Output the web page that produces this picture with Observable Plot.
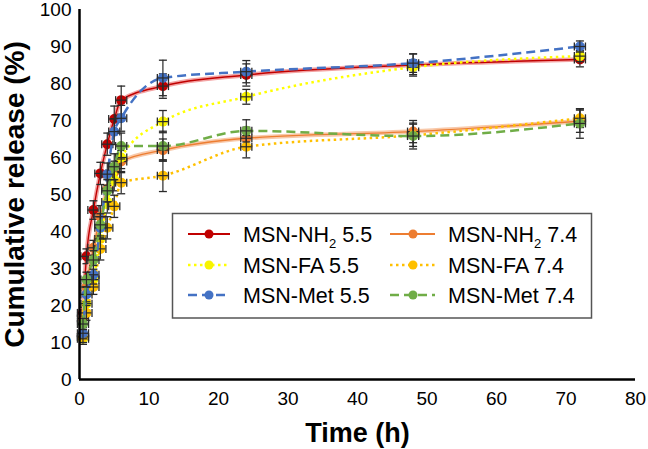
<!DOCTYPE html>
<html><head><meta charset="utf-8">
<script src="https://cdn.jsdelivr.net/npm/d3@7"></script>
<script src="https://cdn.jsdelivr.net/npm/@observablehq/plot@0.6"></script>
<style>body{margin:0;background:#fff}</style>
</head><body><div id="chart"></div>
<script>
// ---- data ----
const times = [0.5, 1, 2, 3, 4, 5, 6, 12, 24, 48, 72];
const seriesNames = ["MSN-NH2 5.5", "MSN-NH2 7.4", "MSN-FA 5.5", "MSN-FA 7.4", "MSN-Met 5.5", "MSN-Met 7.4"];
const nh2_55 = [18, 33.3, 45.8, 55.7, 63.6, 70.4, 75.5, 79.3, 82.3, 85, 86.5];
const nh2_74 = [16.5, 25, 35.6, 44, 51.5, 56, 58.9, 62, 65.2, 67, 69.8];
const fa_55  = [11, 20.5, 27, 38, 48, 54, 60, 69.7, 76.4, 84.4, 87.4];
const fa_74  = [11.5, 18, 25, 35.3, 41, 46.8, 53.2, 55.1, 62.9, 66, 70.6];
const met_55 = [12.5, 23, 28.3, 41, 55.5, 67, 70.6, 81.5, 83.2, 85.5, 90];
const met_74 = [15, 27, 32.3, 41.8, 51, 57.5, 63.1, 63.1, 67.2, 65.8, 69.2];
const err_nh2_55 = [1.5, 2, 2.5, 3, 3, 3.5, 3.8, 3.3, 3, 3, 2];
const err_nh2_74 = [1.5, 2, 2, 3, 3, 3, 3, 3, 3, 3, 3];
const err_fa_55  = [1.5, 2, 2, 2.5, 3, 3, 3, 3, 2, 2, 1.5];
const err_fa_74  = [1.5, 2, 2, 3, 3, 3, 3, 4.3, 3, 3, 2.5];
const err_met_55 = [1.5, 2, 2.5, 3, 3, 3.5, 3.5, 4.8, 3, 2.5, 1.5];
const err_met_74 = [1.5, 2, 2.5, 3, 3, 3.5, 3.5, 4, 3, 3.5, 4];
const timeError = 0.8;
const xTicks = [0, 10, 20, 30, 40, 50, 60, 70, 80];
const yTicks = [0, 10, 20, 30, 40, 50, 60, 70, 80, 90, 100];

const values = [nh2_55, nh2_74, fa_55, fa_74, met_55, met_74];
const errors = [err_nh2_55, err_nh2_74, err_fa_55, err_fa_74, err_met_55, err_met_74];

// ---- styles ----
const styles = [
  {color: "#c00000", under: "#f3a3a3", dash: null, width: 1.4},
  {color: "#ed7d31", under: "#f8c9aa", dash: null, width: 1.4},
  {color: "#ffff00", under: null, dash: "2.5,3.5", width: 2.5},
  {color: "#ffc000", under: null, dash: "2.5,3.5", width: 2.5},
  {color: "#4472c4", under: null, dash: "9,5", width: 2.5},
  {color: "#70ad47", under: null, dash: "9,5", width: 2.5}
];
const dotFill = ["#c00000", "#ed7d31", "#f8f400", "#ffc000", "#4472c4", "#70ad47"];

const capH = {draw(ctx) { ctx.moveTo(-4, 0); ctx.lineTo(4, 0); }};
const capV = {draw(ctx) { ctx.moveTo(0, -4); ctx.lineTo(0, 4); }};
const errColor = "#2a2a2a";
const curve = "monotone-x";

const marks = [];
seriesNames.forEach((name, i) => {
  const rows = times.map((t, j) => ({series: name, t, v: values[i][j], e: errors[i][j]}));
  const s = styles[i];
  if (s.under) marks.push(Plot.line(rows, {x: "t", y: "v", curve, stroke: s.under, strokeWidth: 4.5}));
  marks.push(Plot.line(rows, {x: "t", y: "v", curve, stroke: s.color, strokeWidth: s.width,
    strokeDasharray: s.dash || undefined, strokeLinecap: "butt"}));
  marks.push(Plot.dot(rows, {x: "t", y: "v", r: 5, fill: dotFill[i], stroke: "none"}));
  marks.push(Plot.ruleX(rows, {x: "t", y1: d => d.v - d.e, y2: d => d.v + d.e, stroke: errColor, strokeWidth: 1.2}));
  marks.push(Plot.ruleY(rows, {y: "v", x1: d => d.t - timeError, x2: d => d.t + timeError, stroke: errColor, strokeWidth: 1.2}));
  marks.push(Plot.dot(rows, {x: "t", y: d => d.v + d.e, symbol: capH, stroke: errColor, strokeWidth: 1.3, fill: "none"}));
  marks.push(Plot.dot(rows, {x: "t", y: d => d.v - d.e, symbol: capH, stroke: errColor, strokeWidth: 1.3, fill: "none"}));
  marks.push(Plot.dot(rows, {x: d => d.t - timeError, y: "v", symbol: capV, stroke: errColor, strokeWidth: 1.3, fill: "none"}));
  marks.push(Plot.dot(rows, {x: d => d.t + timeError, y: "v", symbol: capV, stroke: errColor, strokeWidth: 1.3, fill: "none"}));
});

const chart = Plot.plot({
  width: 648, height: 449,
  marginLeft: 79, marginRight: 13, marginTop: 9, marginBottom: 70,
  style: {fontFamily: "'Liberation Sans', Arial, sans-serif", fontSize: "19px", color: "#000", background: "#fff"},
  x: {domain: [0, 80], ticks: xTicks, tickSize: 0, tickPadding: 12, label: null},
  y: {domain: [0, 100], ticks: yTicks, tickSize: 0, tickPadding: 8, label: null},
  marks: [
    ...marks,
    Plot.ruleX([0], {stroke: "#000", strokeWidth: 2.5}),
    Plot.ruleY([0], {stroke: "#000", strokeWidth: 2.5}),
    Plot.text(["Cumulative release (%)"], {text: d => d, frameAnchor: "left", dx: -64, rotate: -90,
      textAnchor: "middle", lineAnchor: "middle", fontSize: 28, fontWeight: "bold", fill: "#000"}),
    Plot.text(["Time (h)"], {text: d => d, frameAnchor: "bottom", dy: 54, textAnchor: "middle",
      lineAnchor: "middle", fontSize: 27, fontWeight: "bold", fill: "#000"})
  ]
});
document.getElementById("chart").appendChild(chart);

// ---- legend ----
const svg = d3.select(chart);
const lg = svg.append("g").attr("font-family", "'Liberation Sans', Arial, sans-serif").attr("text-anchor", "start");
lg.append("rect").attr("x", 172.5).attr("y", 213.5).attr("width", 419).attr("height", 104.5)
  .attr("fill", "#fff").attr("stroke", "#555").attr("stroke-width", 1.5);
const rowY = [234, 265, 295];
seriesNames.forEach((name, i) => {
  const col = i % 2, row = Math.floor(i / 2);
  const y = rowY[row];
  const x1 = col ? 390 : 188, x2 = col ? 435 : 230, dx = col ? 413 : 209, tx = col ? 448 : 243;
  const s = styles[i];
  lg.append("line").attr("x1", x1).attr("x2", x2).attr("y1", y).attr("y2", y)
    .attr("stroke", s.color).attr("stroke-width", s.dash ? 2.5 : 2)
    .attr("stroke-dasharray", s.dash || null);
  lg.append("circle").attr("cx", dx).attr("cy", y).attr("r", 4.5).attr("fill", dotFill[i]);
  const t = lg.append("text").attr("x", tx).attr("y", y + 7.5).attr("font-size", 21.5)
    .attr("fill", "#000").attr("text-anchor", "start");
  const m = name.match(/^(.*NH)2 (.*)$/);
  if (m) {
    t.append("tspan").text(m[1]);
    t.append("tspan").attr("font-size", 13).attr("dy", 6).text("2");
    t.append("tspan").attr("dy", -6).text(" " + m[2]);
  } else {
    t.text(name);
  }
});
</script>
</body></html>
